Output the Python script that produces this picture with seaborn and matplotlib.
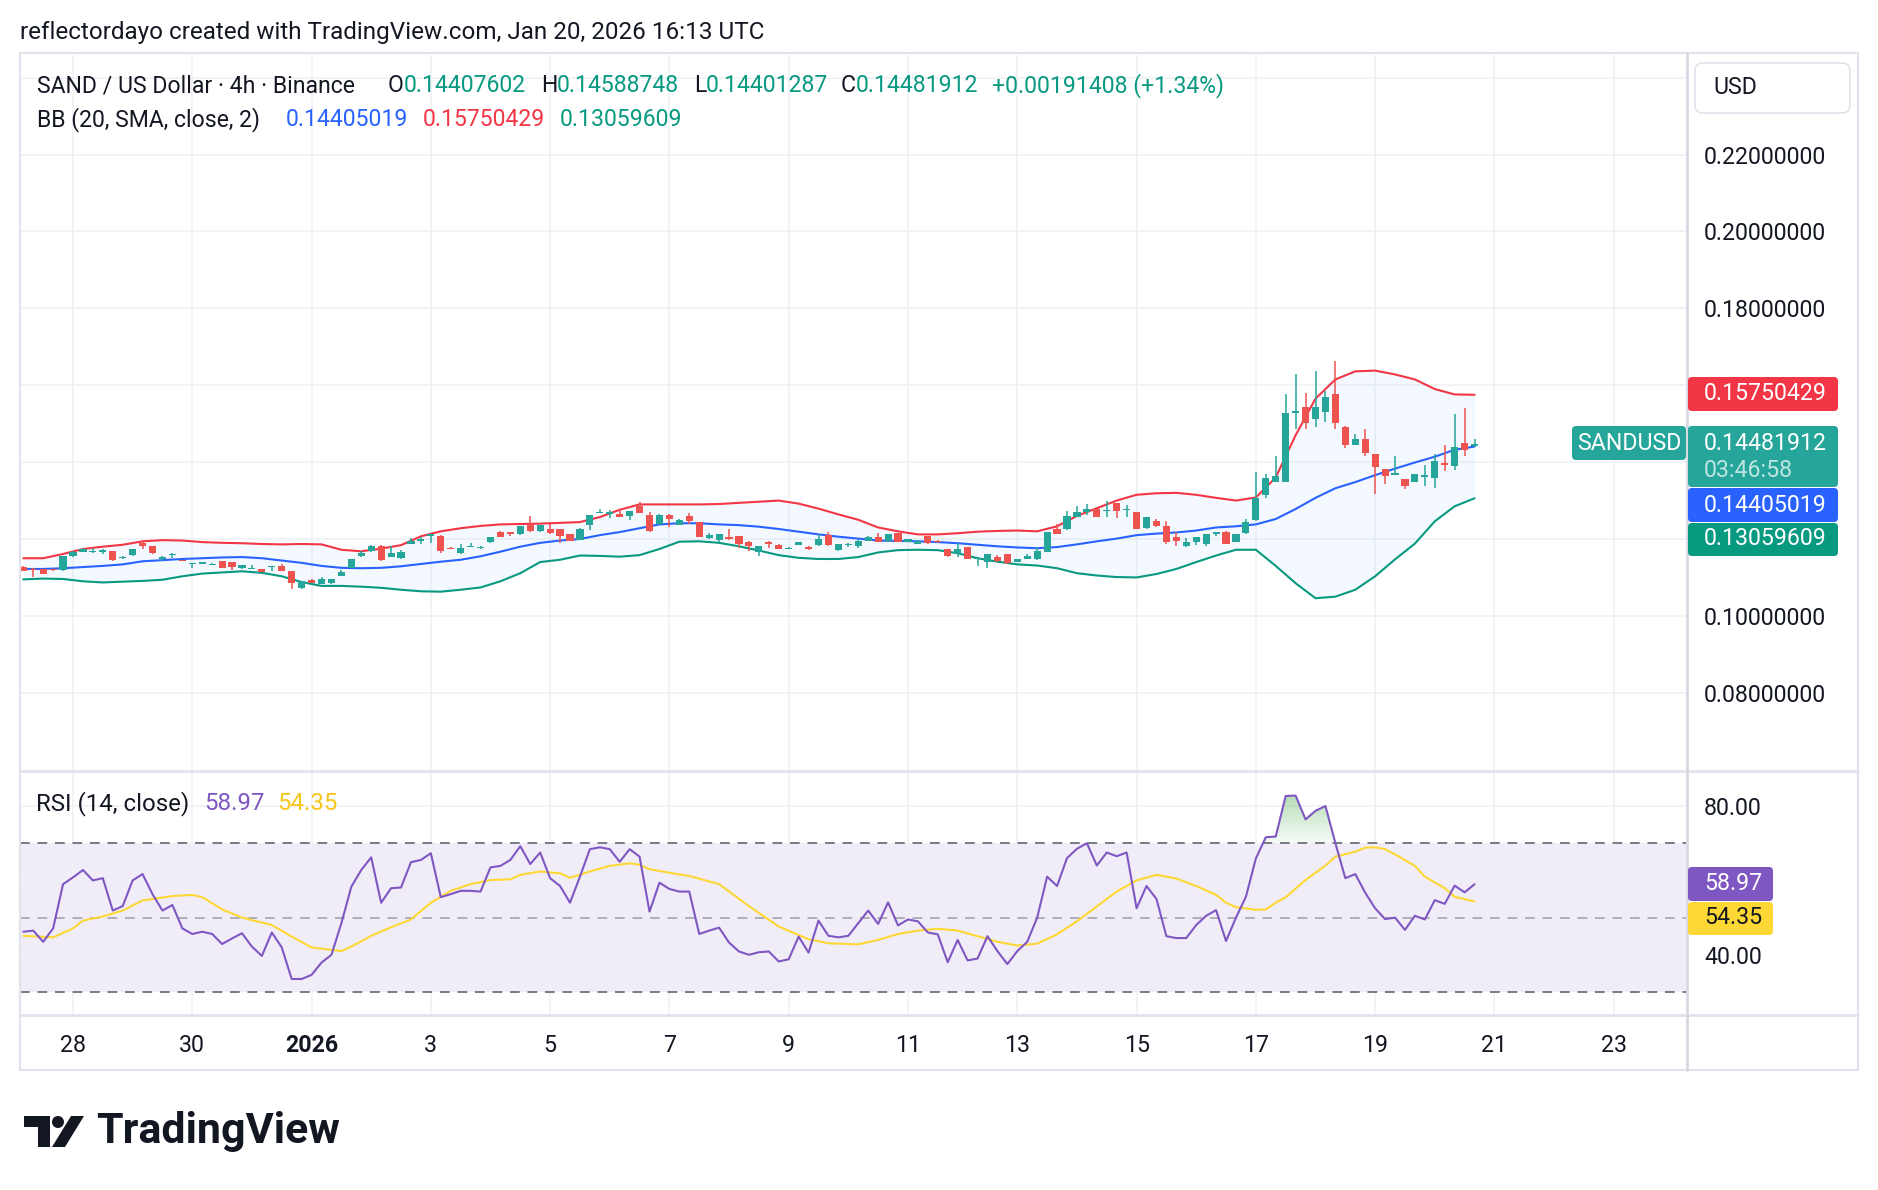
import numpy as np
import matplotlib
matplotlib.use("Agg")
import matplotlib.pyplot as plt
import seaborn as sns
from matplotlib.patches import FancyBboxPatch, Polygon, Circle
from matplotlib.transforms import IdentityTransform
from matplotlib.path import Path
from matplotlib.lines import Line2D

sns.set_theme(style="white")
plt.rcParams['font.family'] = ['Roboto', 'DejaVu Sans']

# ---------------- data (4h candles, bar index 0 = Dec 27 04:00 UTC) ----------------
opens = [.1128, .1123, .1121, .1122, .1119, .1155, .1166, .1165, .1167, .1168,
         .1150, .1158, .1189, .1181, .1148, .1159, .1146, .1135, .1136, .1133,
         .1143, .1141, .1124, .1122, .1121, .1128, .1129, .1116, .1072, .1094,
         .1083, .1085, .1105, .1125, .1155, .1168, .1183, .1153, .1150, .1187,
         .1196, .1209, .1209, .1177, .1163, .1179, .1176, .1191, .1218, .1217,
         .1212, .1239, .1220, .1227, .1225, .1213, .1198, .1237, .1268, .1266,
         .1266, .1261, .1285, .1262, .1238, .1263, .1237, .1260, .1243, .1202,
         .1198, .1204, .1208, .1193, .1166, .1192, .1185, .1174, .1185, .1180,
         .1184, .1210, .1171, .1185, .1182, .1196, .1204, .1194, .1215, .1193,
         .1187, .1208, .1196, .1174, .1161, .1178, .1148, .1140, .1154, .1160,
         .1140, .1148, .1147, .1166, .1225, .1225, .1257, .1271, .1277, .1272,
         .1293, .1276, .1269, .1228, .1246, .1233, .1204, .1181, .1192, .1187,
         .1212, .1219, .1192, .1215, .1249, .1315, .1348, .1348, .1528, .1544,
         .1512, .1530, .1578, .1492, .1445, .1459, .1420, .1381, .1367, .1356,
         .1348, .1362, .1358, .1397, .1391, .1450, .14407602]
highs = [.1130, .1124, .1122, .1123, .1156, .1168, .1177, .1176, .1173, .1169,
         .1155, .1175, .1192, .1182, .1155, .1163, .1146, .1138, .1139, .1137,
         .1144, .1141, .1133, .1133, .1123, .1131, .1136, .1116, .1091, .1095,
         .1101, .1097, .1120, .1147, .1168, .1184, .1184, .1181, .1172, .1203,
         .1204, .1214, .1210, .1178, .1188, .1190, .1181, .1205, .1220, .1218,
         .1234, .1260, .1237, .1239, .1226, .1214, .1228, .1263, .1278, .1276,
         .1272, .1274, .1296, .1269, .1265, .1264, .1251, .1268, .1244, .1216,
         .1214, .1225, .1209, .1194, .1183, .1196, .1186, .1178, .1192, .1181,
         .1213, .1218, .1187, .1189, .1197, .1207, .1215, .1214, .1216, .1200,
         .1197, .1209, .1197, .1175, .1190, .1179, .1152, .1162, .1159, .1161,
         .1149, .1160, .1179, .1218, .1238, .1274, .1287, .1291, .1278, .1300,
         .1294, .1289, .1270, .1258, .1253, .1248, .1219, .1203, .1205, .1212,
         .1218, .1220, .1214, .1251, .1374, .1369, .1417, .1576, .1629, .1580,
         .1638, .1586, .1664, .1493, .1473, .1486, .1421, .1382, .1417, .1357,
         .1369, .1393, .1421, .1444, .1524, .1540, .14588748]
lows = [.1117, .1102, .1108, .1118, .1118, .1154, .1165, .1164, .1160, .1144,
        .1149, .1157, .1174, .1162, .1144, .1150, .1142, .1124, .1136, .1133,
        .1124, .1119, .1121, .1121, .1114, .1116, .1116, .1069, .1071, .1085,
        .1082, .1084, .1104, .1124, .1154, .1167, .1144, .1152, .1149, .1186,
        .1187, .1189, .1163, .1173, .1162, .1178, .1175, .1190, .1204, .1207,
        .1211, .1219, .1219, .1214, .1189, .1195, .1197, .1224, .1267, .1254,
        .1257, .1249, .1267, .1218, .1237, .1231, .1236, .1239, .1205, .1201,
        .1192, .1198, .1177, .1169, .1155, .1176, .1173, .1173, .1184, .1171,
        .1183, .1183, .1170, .1179, .1176, .1195, .1191, .1193, .1192, .1192,
        .1186, .1188, .1190, .1154, .1153, .1147, .1129, .1124, .1141, .1136,
        .1139, .1147, .1146, .1165, .1213, .1224, .1256, .1263, .1256, .1257,
        .1254, .1258, .1225, .1227, .1232, .1187, .1183, .1180, .1184, .1183,
        .1209, .1186, .1191, .1214, .1248, .1306, .1347, .1347, .1485, .1485,
        .1491, .1504, .1486, .1436, .1444, .1417, .1317, .1342, .1366, .1330,
        .1347, .1339, .1332, .1378, .1380, .1417, .14401287]
closes = [.1118, .1119, .1109, .1119, .1155, .1167, .1175, .1170, .1172, .1145,
          .1154, .1174, .1182, .1163, .1154, .1162, .1142, .1137, .1139, .1136,
          .1124, .1127, .1133, .1125, .1114, .1131, .1117, .1085, .1090, .1086,
          .1095, .1096, .1115, .1147, .1163, .1183, .1145, .1163, .1165, .1196,
          .1199, .1213, .1170, .1174, .1177, .1183, .1180, .1204, .1205, .1213,
          .1233, .1220, .1236, .1215, .1209, .1196, .1227, .1263, .1271, .1270,
          .1258, .1273, .1268, .1222, .1262, .1251, .1250, .1248, .1205, .1211,
          .1213, .1199, .1187, .1181, .1182, .1187, .1174, .1177, .1191, .1175,
          .1201, .1184, .1186, .1188, .1196, .1206, .1192, .1213, .1193, .1199,
          .1196, .1189, .1191, .1155, .1174, .1148, .1151, .1161, .1142, .1137,
          .1148, .1156, .1170, .1217, .1214, .1261, .1271, .1277, .1257, .1276,
          .1274, .1278, .1226, .1257, .1233, .1192, .1195, .1193, .1204, .1212,
          .1218, .1186, .1214, .1244, .1306, .1359, .1363, .1528, .1534, .1501,
          .1543, .1569, .1501, .1445, .1460, .1423, .1387, .1363, .1371, .1337,
          .1368, .1366, .1404, .1393, .1440, .1432, .14481912]

# Bollinger Bands (20, SMA, 2) every 2 bars
bb_x = list(range(0, 147, 2))
bb_upper = [.1150, .1150, .1161, .1174, .1180, .1185, .1194, .1197, .1196, .1192,
            .1190, .1189, .1187, .1186, .1187, .1186, .1172, .1168, .1175, .1184,
            .1207, .1220, .1228, .1234, .1238, .1239, .1240, .1242, .1244, .1257,
            .1276, .1290, .1290, .1290, .1290, .1291, .1294, .1297, .1300, .1292,
            .1279, .1264, .1250, .1230, .1220, .1212, .1212, .1215, .1219, .1221,
            .1222, .1220, .1233, .1260, .1280, .1300, .1315, .1319, .1320, .1315,
            .1307, .1300, .1308, .1360, .1470, .1565, .1615, .1636, .1638, .1628,
            .1615, .1590, .1576, .15750429]
bb_basis = [.1122, .1122, .1124, .1127, .1130, .1134, .1142, .1145, .1148, .1150,
            .1152, .1153, .1150, .1144, .1138, .1130, .1125, .1124, .1125, .1129,
            .1135, .1141, .1146, .1155, .1167, .1180, .1190, .1196, .1200, .1210,
            .1218, .1228, .1238, .1241, .1241, .1238, .1236, .1232, .1226, .1219,
            .1212, .1206, .1201, .1196, .1195, .1194, .1192, .1189, .1185, .1181,
            .1178, .1176, .1179, .1186, .1194, .1201, .1210, .1214, .1217, .1222,
            .1230, .1233, .1238, .1252, .1278, .1307, .1332, .1348, .1366, .1383,
            .1399, .1414, .1432, .14405019]
bb_lower = [.1095, .1097, .1096, .1090, .1087, .1089, .1091, .1094, .1103, .1110,
            .1113, .1116, .1112, .1103, .1088, .1078, .1078, .1076, .1073, .1068,
            .1064, .1063, .1068, .1074, .1090, .1111, .1140, .1146, .1157, .1156,
            .1154, .1158, .1174, .1193, .1194, .1190, .1181, .1170, .1158, .1151,
            .1148, .1148, .1153, .1165, .1171, .1172, .1171, .1163, .1150, .1141,
            .1134, .1131, .1124, .1111, .1105, .1101, .1100, .1109, .1122, .1140,
            .1157, .1172, .1172, .1130, .1085, .1046, .1050, .1068, .1103, .1147,
            .1188, .1246, .1285, .13059609]

# RSI (14, close), one value per bar
rsi = [46.2, 46.5, 43.5, 47.1, 59.0, 60.8, 62.8, 60.0, 60.6, 51.9,
       53.1, 60.0, 61.7, 56.3, 51.9, 53.4, 47.1, 45.6, 46.2, 45.6,
       42.9, 44.4, 45.8, 42.2, 39.7, 46.0, 42.0, 33.5, 33.5, 34.6,
       37.9, 40.0, 48.5, 58.3, 62.8, 66.2, 54.0, 57.9, 58.1, 64.9,
       65.5, 67.3, 55.5, 56.3, 57.2, 57.2, 57.0, 63.5, 63.9, 65.5,
       69.2, 64.4, 67.5, 60.6, 58.5, 54.0, 61.0, 68.4, 68.9, 68.4,
       65.0, 68.4, 66.4, 51.6, 59.4, 57.7, 57.0, 57.0, 45.6, 46.5,
       47.3, 43.3, 40.9, 40.0, 40.7, 40.9, 38.2, 38.8, 44.9, 40.6,
       49.2, 45.1, 44.7, 45.1, 48.5, 51.9, 48.3, 54.1, 47.9, 49.5,
       49.0, 46.0, 45.5, 38.0, 44.0, 38.5, 39.0, 45.0, 41.0, 37.5,
       41.0, 43.5, 50.0, 61.0, 58.5, 66.0, 68.5, 70.0, 64.0, 67.5,
       66.5, 67.5, 52.5, 58.5, 55.0, 45.0, 44.5, 44.5, 48.0, 50.5,
       52.0, 43.7, 50.0, 55.6, 65.9, 71.6, 71.8, 82.7, 82.8, 76.4,
       78.7, 80.0, 70.0, 60.6, 61.7, 56.7, 52.5, 49.6, 50.0, 46.7,
       50.5, 49.5, 54.7, 53.7, 58.6, 56.8, 58.97]
# RSI-based MA (yellow), sampled points
ma_x = [0, 3, 5, 6, 8, 10, 12, 15, 17, 18, 20, 22, 25, 27, 29, 32, 33, 35, 37, 39,
        41, 43, 45, 47, 49, 50, 52, 54, 55, 57, 59, 61, 62, 63, 66, 67, 70, 73, 76, 79,
        81, 84, 86, 88, 90, 92, 94, 96, 98, 100, 102, 104, 106, 108, 110, 112, 114, 116, 118, 120,
        121, 122, 124, 125, 126, 127, 129, 131, 132, 134, 135, 136, 137, 138, 140, 141, 143, 144, 146]
ma_vals = [45.1, 44.7, 47.1, 49.2, 50.3, 51.9, 54.6, 55.8, 56.1, 55.5, 52.2, 50.0, 48.0, 44.9, 42.0, 41.0, 42.2, 45.1, 47.4, 49.5,
           54.0, 57.2, 59.0, 60.1, 60.3, 61.5, 62.4, 61.9, 60.7, 62.4, 63.9, 64.6, 64.2, 63.0, 61.6, 61.2, 59.0, 53.1, 47.6, 44.2,
           43.1, 42.8, 44.0, 45.6, 46.5, 47.0, 46.5, 45.0, 43.5, 42.5, 43.0, 45.5, 49.0, 53.0, 57.0, 60.0, 61.5, 60.5, 58.5, 56.1,
           54.0, 52.8, 52.1, 52.2, 54.0, 55.5, 60.1, 64.0, 66.4, 67.7, 68.8, 68.9, 68.4, 67.0, 63.9, 61.0, 57.9, 55.6, 54.35]

date_ticks = [5, 17, 29, 41, 53, 65, 77, 89, 100, 112, 124, 136, 148, 160]
date_labels = ['28', '30', '2026', '3', '5', '7', '9', '11', '13', '15', '17', '19', '21', '23']
price_ticks = [0.08, 0.10, 0.12, 0.14, 0.16, 0.18, 0.20, 0.22, 0.24]
price_tick_labels = ['0.08000000', '0.10000000', '', '', '', '0.18000000', '0.20000000', '0.22000000', '']

# ---------------- colours ----------------
UP, DOWN = '#26a69a', '#ef5350'
C_BASIS, C_UPPER, C_LOWER = '#2962ff', '#f23645', '#089981'
C_RSI, C_MA = '#7e57c2', '#fdd835'
TXT = '#131722'
GRID = '#f0f1f4'
BORDER = '#e0e3eb'

W, H = 1878, 1190
fig = plt.figure(figsize=(W / 100, H / 100), dpi=100)
fig.patch.set_facecolor('white')


def fx(px):
    return px / W


def fy(py):
    return 1 - py / H


X0, X1 = 20, 1686
ax = fig.add_axes([fx(X0), fy(770), fx(X1) - fx(X0), fy(55) - fy(770)])
axr = fig.add_axes([fx(X0), fy(1015), fx(X1) - fx(X0), fy(770) - fy(1015)])

xlim = ((X0 - 23.3) / 9.94, (X1 - 23.3) / 9.94)
FS = 16.7     # axis labels
FT = 17.5     # header text
FL = 16.6     # legend text

# ---------------- price pane ----------------
idx = np.arange(len(closes))
o, h, l, c = map(np.asarray, (opens, highs, lows, closes))
colors = np.where(c >= o, UP, DOWN)

ax.fill_between(bb_x, bb_lower, bb_upper, color='#2196f3', alpha=0.05, lw=0, zorder=1)
sns.lineplot(x=bb_x, y=bb_upper, ax=ax, color=C_UPPER, lw=1.5, zorder=2)
sns.lineplot(x=bb_x, y=bb_lower, ax=ax, color=C_LOWER, lw=1.5, zorder=2)
sns.lineplot(x=bb_x, y=bb_basis, ax=ax, color=C_BASIS, lw=1.5, zorder=2)

ax.vlines(idx, l, h, colors=colors, lw=1.1, zorder=3)
body_low = np.minimum(o, c)
body_h = np.maximum(np.abs(c - o), 0.00012)
ax.bar(idx, body_h, bottom=body_low, width=0.72, color=colors, lw=0, zorder=4)

ax.set_xlim(*xlim)
ax.set_ylim(0.05992, 0.24588)
ax.set_xticks(date_ticks)
ax.set_xticklabels([])
ax.set_yticks(price_ticks)
ax.set_yticklabels(price_tick_labels)
ax.yaxis.tick_right()
ax.tick_params(axis='y', length=0, pad=13, labelsize=FS, labelcolor=TXT)
ax.tick_params(axis='x', length=0)
ax.grid(True, color=GRID, lw=1.2)
for s in ax.spines.values():
    s.set_visible(False)
ax.set_facecolor('none')

# ---------------- RSI pane ----------------
axr.axhspan(30, 70, color=C_RSI, alpha=0.1, lw=0, zorder=0)
for lvl, a in ((70, 1.0), (50, 0.55), (30, 1.0)):
    axr.axhline(lvl, color='#787b86', alpha=a, lw=1.4, ls=(0, (5, 4)), zorder=1)

rsi_x = np.arange(len(rsi))
rsi_arr = np.asarray(rsi)
coll = axr.fill_between(rsi_x, rsi_arr, 70, where=rsi_arr > 70, interpolate=True,
                        color='none', lw=0)
paths = coll.get_paths()
if paths:
    grad = np.zeros((100, 2, 4))
    t = np.linspace(1, 0, 100)[:, None]
    grad[..., 0] = 76 / 255
    grad[..., 1] = 175 / 255
    grad[..., 2] = 80 / 255
    grad[..., 3] = 0.05 + 0.40 * t
    im = axr.imshow(grad, extent=[xlim[0], xlim[1], 70, 84], origin='upper',
                    aspect='auto', zorder=1.5, interpolation='bilinear')
    im.set_clip_path(Path.make_compound_path(*paths), transform=axr.transData)

sns.lineplot(x=ma_x, y=ma_vals, ax=axr, color=C_MA, lw=1.5, zorder=3)
sns.lineplot(x=rsi_x, y=rsi, ax=axr, color=C_RSI, lw=1.5, zorder=4)

axr.set_xlim(*xlim)
axr.set_ylim(23.82, 89.68)
axr.set_yticks([40, 60, 80])
axr.set_yticklabels(['40.00', '', '80.00'])
axr.yaxis.tick_right()
axr.tick_params(axis='y', length=0, pad=13, labelsize=FS, labelcolor=TXT)
axr.set_xticks(date_ticks)
axr.set_xticklabels(date_labels)
axr.tick_params(axis='x', length=0, pad=13.5, labelsize=FS, labelcolor=TXT)
for lab in axr.get_xticklabels():
    if lab.get_text() == '2026':
        lab.set_fontweight('bold')
axr.grid(True, color=GRID, lw=1.2)
for s in axr.spines.values():
    s.set_visible(False)
axr.set_facecolor('none')
axr.set_xlabel('')
axr.set_ylabel('')
ax.set_xlabel('')
ax.set_ylabel('')

# ---------------- frame lines ----------------
def hline(y, x0, x1, col=BORDER, lw=1.5):
    fig.add_artist(Line2D([fx(x0), fx(x1)], [fy(y), fy(y)], color=col, lw=lw, zorder=0.5))


def vline(x, y0, y1, col=BORDER, lw=1.5):
    fig.add_artist(Line2D([fx(x), fx(x)], [fy(y0), fy(y1)], color=col, lw=lw, zorder=0.5))


hline(53, 20, 1858)
hline(1070, 20, 1858)
vline(20, 53, 1070)
vline(1858, 53, 1070)
hline(771, 20, 1858, lw=2)
hline(1015, 20, 1858, lw=2)
vline(1687, 53, 1070, col='#d6d9e0', lw=2)


# ---------------- boxes & labels ----------------
def box(x0, y0, x1, y1, fc, ec=None, r=4, lw=0.0, z=5):
    p = FancyBboxPatch((x0, H - y1), x1 - x0, y1 - y0,
                       boxstyle=f"round,pad=0,rounding_size={r}",
                       transform=IdentityTransform(), fc=fc, ec=ec if ec else fc,
                       lw=lw, zorder=z)
    fig.add_artist(p)


def ftext(x, y, s, color=TXT, size=FL, ha='left', weight='normal', alpha=1.0, z=6):
    fig.text(fx(x), fy(y), s, color=color, fontsize=size, ha=ha, va='center',
             fontweight=weight, alpha=alpha, zorder=z)


box(1695, 63, 1850, 113, 'white', ec=BORDER, r=8, lw=1.2)
ftext(1713, 88, 'USD', size=FS)

box(1688, 377, 1838, 411, C_UPPER)
ftext(1704, 394, '0.15750429', color='white', size=FS)
box(1688, 426, 1838, 487, UP)
ftext(1704, 443, '0.14481912', color='white', size=FS)
ftext(1704, 471, '03:46:58', color='white', alpha=0.7, size=FS)
box(1688, 488, 1838, 522, C_BASIS)
ftext(1704, 505, '0.14405019', color='white', size=FS)
box(1688, 523, 1838, 556, C_LOWER)
ftext(1704, 539, '0.13059609', color='white', size=FS)
box(1572, 426, 1686, 460, UP)
ftext(1629, 443, 'SANDUSD', color='white', ha='center', size=FS)

box(1688, 867, 1773, 901, C_RSI)
ftext(1704, 884, '58.97', color='white', size=FS)
box(1688, 902, 1773, 935, C_MA)
ftext(1704, 918, '54.35', color=TXT, size=FS)

# header & legends
ftext(20, 32, 'reflectordayo created with TradingView.com, Jan 20, 2026 16:13 UTC', size=FT)
VAL = '#089981'
ftext(37, 86, 'SAND / US Dollar · 4h · Binance')
ftext(388, 86, 'O')
ftext(404, 86, '0.14407602', color=VAL)
ftext(541, 86, 'H')
ftext(557, 86, '0.14588748', color=VAL)
ftext(694, 86, 'L')
ftext(706, 86, '0.14401287', color=VAL)
ftext(841, 86, 'C')
ftext(856, 86, '0.14481912', color=VAL)
ftext(992, 86, '+0.00191408 (+1.34%)', color=VAL)

ftext(37, 120, 'BB (20, SMA, close, 2)')
ftext(286, 120, '0.14405019', color=C_BASIS)
ftext(423, 120, '0.15750429', color=C_UPPER)
ftext(560, 120, '0.13059609', color=C_LOWER)

ftext(36, 804, 'RSI (14, close)', size=17.3)
ftext(204, 804, '58.97', color=C_RSI, size=17.3)
ftext(277, 804, '54.35', color='#f5c518', size=17.3)

# TradingView logo
tf = IdentityTransform()
fig.add_artist(Polygon([(24, H - 1116), (50, H - 1116), (50, H - 1147), (38, H - 1147),
                        (38, H - 1127), (24, H - 1127)], closed=True, fc=TXT, ec='none',
                       transform=tf))
fig.add_artist(Circle((58, H - 1122), 6, fc=TXT, ec='none', transform=tf))
fig.add_artist(Polygon([(52, H - 1147), (65, H - 1147), (84, H - 1116), (71, H - 1116)],
                       closed=True, fc=TXT, ec='none', transform=tf))
ftext(96, 1131, 'TradingView', size=31, weight='bold')

fig.savefig('out.png', dpi=100, facecolor='white')
